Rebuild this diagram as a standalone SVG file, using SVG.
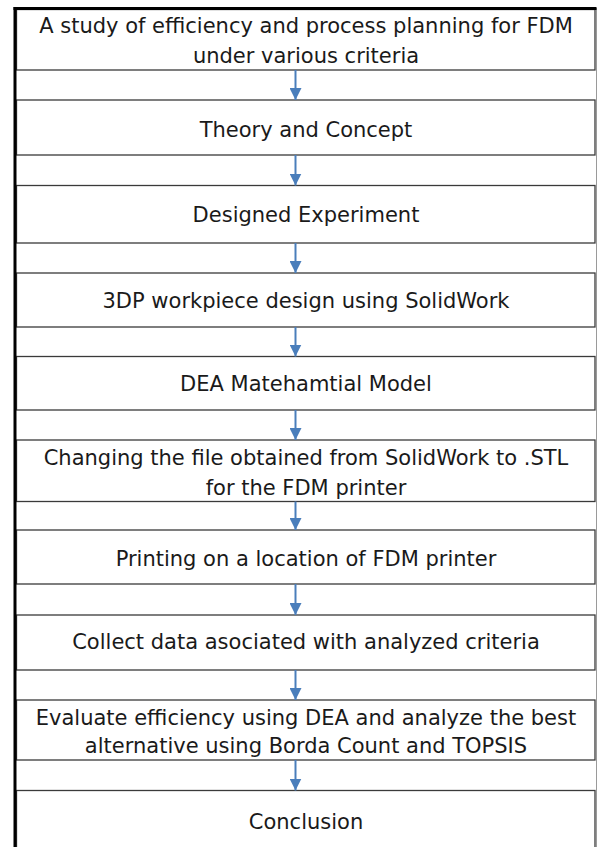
<svg xmlns="http://www.w3.org/2000/svg" width="598" height="847" viewBox="0 0 598 847">
<style>
.box{fill:#ffffff;stroke:#3a3a3a;stroke-width:1.3}
.t{font-family:"DejaVu Sans",sans-serif;font-size:21px;fill:#1a1a1a;text-anchor:middle}
.c{stroke:#4a7ebb;stroke-width:2;fill:none}
</style>
<defs>
<marker id="ah" markerWidth="6" markerHeight="6" refX="6" refY="3" orient="auto" markerUnits="strokeWidth">
<path d="M0,0 L6,3 L0,6 Z" fill="#4a7ebb"/>
</marker>
</defs>
<rect x="0" y="0" width="598" height="847" fill="#ffffff"/>
<line x1="596.5" y1="8" x2="596.5" y2="847" stroke="#9a9a9a" stroke-width="1"/>
<g id="n1"><rect class="box" x="16.5" y="9.5" width="578.5" height="60.5"/><text class="t" x="306" y="33">A study of efficiency and process planning for FDM</text><text class="t" x="306" y="62.5">under various criteria</text></g>
<g id="n2"><rect class="box" x="16.5" y="100" width="578.5" height="55"/><text class="t" x="306" y="136.5">Theory and Concept</text></g>
<g id="n3"><rect class="box" x="16.5" y="185.5" width="578.5" height="57.5"/><text class="t" x="306" y="222">Designed Experiment</text></g>
<g id="n4"><rect class="box" x="16.5" y="273" width="578.5" height="54"/><text class="t" x="306" y="308">3DP workpiece design using SolidWork</text></g>
<g id="n5"><rect class="box" x="16.5" y="356.5" width="578.5" height="53.5"/><text class="t" x="306" y="391">DEA Matehamtial Model</text></g>
<g id="n6"><rect class="box" x="16.5" y="440" width="578.5" height="61.5"/><text class="t" x="306" y="465">Changing the file obtained from SolidWork to .STL</text><text class="t" x="306" y="495">for the FDM printer</text></g>
<g id="n7"><rect class="box" x="16.5" y="530" width="578.5" height="54"/><text class="t" x="306" y="566">Printing on a location of FDM printer</text></g>
<g id="n8"><rect class="box" x="16.5" y="615" width="578.5" height="55"/><text class="t" x="306" y="649">Collect data asociated with analyzed criteria</text></g>
<g id="n9"><rect class="box" x="16.5" y="700" width="578.5" height="60"/><text class="t" x="306" y="725">Evaluate efficiency using DEA and analyze the best</text><text class="t" x="306" y="753">alternative using Borda Count and TOPSIS</text></g>
<g id="n10"><rect class="box" x="16.5" y="790.5" width="578.5" height="60"/><text class="t" x="306" y="828.5">Conclusion</text></g>
<g id="frame">
<line x1="15" y1="7" x2="15" y2="847" stroke="#000" stroke-width="3"/>
<line x1="13.5" y1="8.5" x2="596.5" y2="8.5" stroke="#000" stroke-width="3"/>
</g>
<g id="connectors">
<line class="c" x1="295.5" y1="70" x2="295.5" y2="100" marker-end="url(#ah)"/>
<line class="c" x1="295.5" y1="155" x2="295.5" y2="185.5" marker-end="url(#ah)"/>
<line class="c" x1="295.5" y1="243" x2="295.5" y2="273" marker-end="url(#ah)"/>
<line class="c" x1="295.5" y1="327" x2="295.5" y2="356.5" marker-end="url(#ah)"/>
<line class="c" x1="295.5" y1="410" x2="295.5" y2="440" marker-end="url(#ah)"/>
<line class="c" x1="295.5" y1="501.5" x2="295.5" y2="530" marker-end="url(#ah)"/>
<line class="c" x1="295.5" y1="584" x2="295.5" y2="615" marker-end="url(#ah)"/>
<line class="c" x1="295.5" y1="670" x2="295.5" y2="700" marker-end="url(#ah)"/>
<line class="c" x1="295.5" y1="760" x2="295.5" y2="790.5" marker-end="url(#ah)"/>
</g>
</svg>
